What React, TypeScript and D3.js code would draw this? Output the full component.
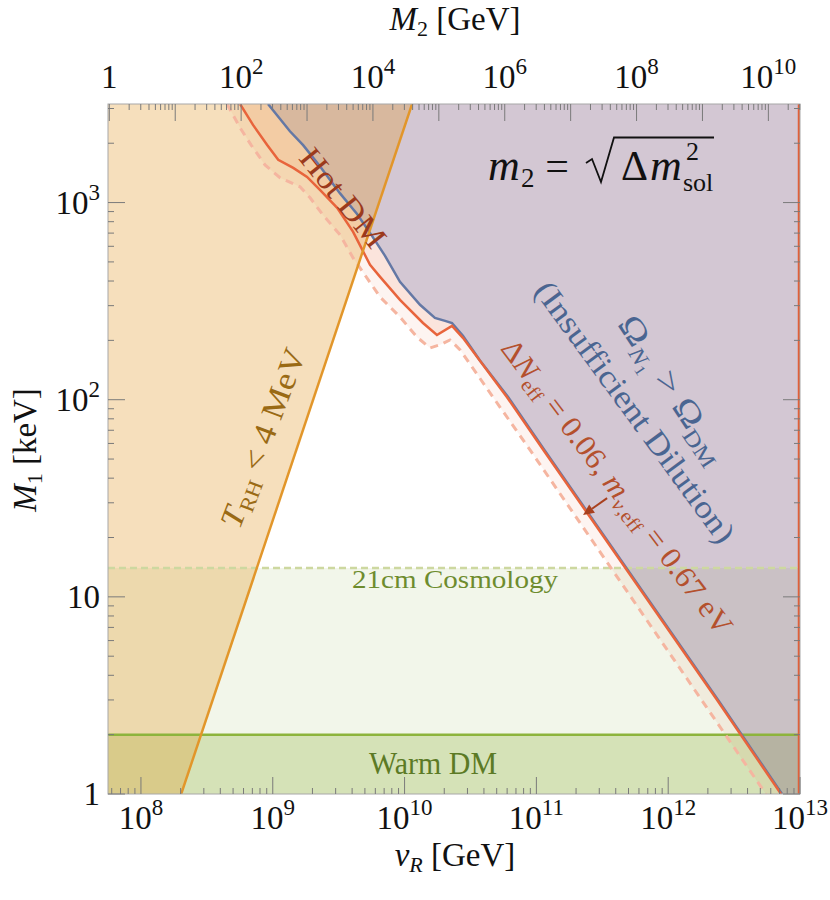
import React, { useEffect, useRef } from "react";
import * as d3 from "d3";

type Pt = [number, number];

// axis ranges: v_R in GeV, M_1 in keV
const vRange: [number, number] = [10 ** 7.75, 1e13];
const mRange: [number, number] = [1, 10 ** 3.5];
// top axis: M_2 = (v_R / vRef)^2 in GeV
const vRef = 10 ** 7.76;

const bottomTicks = [1e8, 1e9, 1e10, 1e11, 1e12, 1e13];
const leftTicks = [1, 10, 100, 1000];
const topTicks = [1, 1e2, 1e4, 1e6, 1e8, 1e10];

const cosmo21 = 14; // keV
const warmDM = 2; // keV

// T_RH < 4 MeV boundary
const trhLine: Pt[] = [
  [2.02e8, 1],
  [1.14e10, 3162],
];

// Omega_N1 = Omega_DM
const omegaLine: Pt[] = [
  [9.2e8, 3162], [1.35e9, 2300], [1.7e9, 1955], [2.28e9, 1530], [3.24e9, 1113],
  [4.36e9, 875], [5.66e9, 678], [7.11e9, 537], [9.23e9, 396], [1.31e10, 303],
  [1.7e10, 260], [2.03e10, 251], [2.29e10, 245], [2.77e10, 211], [3.73e10, 158],
  [6.1e10, 103.3], [1.15e11, 55.6], [2.39e12, 3.0], [7.3e12, 1],
];

// Hot DM: Delta N_eff = 0.06
const hotLine: Pt[] = [
  [5.65e8, 3162], [7.08e8, 2478], [9.04e8, 1963], [1.1e9, 1648], [1.43e9, 1500],
  [1.82e9, 1350], [2.28e9, 1160], [3.08e9, 940], [4.07e9, 710], [5.47e9, 483],
  [6.52e9, 420], [9.23e9, 321], [1.38e10, 245], [1.76e10, 213], [2.29e10, 237],
  [2.77e10, 206], [5.99e10, 103], [1.13e11, 55.6], [2.35e12, 3.0], [7.18e12, 1],
];

// dashed projection
const hotDashed: Pt[] = [
  [4.5e8, 3162], [5.65e8, 2393], [6.84e8, 1963], [8.73e8, 1553], [1.14e9, 1334],
  [1.61e9, 1202], [1.92e9, 1057], [2.4e9, 866], [3.24e9, 686], [4.07e9, 524],
  [6.52e9, 332], [9.23e9, 263], [1.24e10, 208], [1.56e10, 183], [1.86e10, 190],
  [2.21e10, 201], [2.64e10, 179], [4.69e10, 103], [8.95e10, 55.6], [1.75e12, 3.07],
  [5.51e12, 1],
];

const arrowFrom: Pt = [3.44e11, 31.7];
const arrowTo: Pt = [2.26e11, 26.0];

const FONT = "Liberation Serif, DejaVu Serif, serif";

const logTicks = (lo: number, hi: number) => {
  const out: { v: number; major: boolean }[] = [];
  for (let e = Math.floor(Math.log10(lo)); e <= Math.ceil(Math.log10(hi)); e++) {
    for (let k = 1; k < 10; k++) {
      const v = k * 10 ** e;
      if (v >= lo * 0.999 && v <= hi * 1.001) out.push({ v, major: k === 1 });
    }
  }
  return out;
};

const App = () => {
  const ref = useRef<SVGSVGElement>(null);

  useEffect(() => {
    document.body.style.margin = "0";
    const svg = d3.select(ref.current);
    svg.selectAll("*").remove();

    const L = 108, R = 800, T = 104, B = 794;
    const x = d3.scaleLog().domain(vRange).range([L, R]);
    const y = d3.scaleLog().domain(mRange).range([B, T]);
    const xTop = d3
      .scaleLog()
      .domain(vRange.map(v => (v / vRef) ** 2))
      .range([L, R]);

    const line = d3
      .line<Pt>()
      .x(d => x(d[0]))
      .y(d => y(d[1]));
    const [v0, v1] = vRange;
    const [m0, m1] = mRange;

    svg
      .append("defs")
      .append("clipPath")
      .attr("id", "plotclip")
      .append("rect")
      .attr("x", L)
      .attr("y", T)
      .attr("width", R - L)
      .attr("height", B - T);

    const g = svg.append("g").attr("clip-path", "url(#plotclip)");

    // green bands
    g.append("rect")
      .attr("x", L).attr("width", R - L)
      .attr("y", y(cosmo21)).attr("height", B - y(cosmo21))
      .attr("fill", "rgb(150,180,80)").attr("fill-opacity", 0.12);
    g.append("rect")
      .attr("x", L).attr("width", R - L)
      .attr("y", y(warmDM)).attr("height", B - y(warmDM))
      .attr("fill", "rgb(140,180,60)").attr("fill-opacity", 0.29);

    // overclosure region
    g.append("path")
      .attr("d", line([...omegaLine, [v1, m0], [v1, m1]]) + "Z")
      .attr("fill", "rgb(118,82,118)").attr("fill-opacity", 0.32);

    // hot DM region
    g.append("path")
      .attr("d", line([...hotLine, ...omegaLine.slice().reverse()]) + "Z")
      .attr("fill", "rgb(232,101,58)").attr("fill-opacity", 0.175);
    g.append("path")
      .attr("d", line([...hotDashed, ...hotLine.slice().reverse()]) + "Z")
      .attr("fill", "rgb(232,101,58)").attr("fill-opacity", 0.07);

    // reheating region
    g.append("path")
      .attr("d", line([...trhLine, [v0, m1], [v0, m0]]) + "Z")
      .attr("fill", "rgb(226,154,42)").attr("fill-opacity", 0.315);

    // boundary lines
    g.append("line")
      .attr("x1", L).attr("x2", R).attr("y1", y(cosmo21)).attr("y2", y(cosmo21))
      .attr("stroke", "#cdd8a0").attr("stroke-width", 2.5).attr("stroke-dasharray", "7,4");
    g.append("line")
      .attr("x1", L).attr("x2", R).attr("y1", y(warmDM)).attr("y2", y(warmDM))
      .attr("stroke", "#8db43c").attr("stroke-width", 2.5);
    g.append("path").attr("d", line(hotDashed)).attr("fill", "none")
      .attr("stroke", "#f5b5a0").attr("stroke-width", 3).attr("stroke-dasharray", "8,6");
    g.append("path").attr("d", line(omegaLine)).attr("fill", "none")
      .attr("stroke", "#6478a5").attr("stroke-width", 2.5);
    g.append("path").attr("d", line(hotLine)).attr("fill", "none")
      .attr("stroke", "#e8643c").attr("stroke-width", 2.5);
    g.append("path").attr("d", line(trhLine)).attr("fill", "none")
      .attr("stroke", "#e2962a").attr("stroke-width", 2.5);
    g.append("line")
      .attr("x1", x(v1) - 1).attr("x2", x(v1) - 1).attr("y1", y(m0)).attr("y2", y(m1))
      .attr("stroke", "#e0603a").attr("stroke-width", 2.5);

    // frame + ticks
    svg.append("rect")
      .attr("x", L).attr("y", T).attr("width", R - L).attr("height", B - T)
      .attr("fill", "none").attr("stroke", "#a8a8a8").attr("stroke-width", 1);
    const tk = svg.append("g").attr("stroke", "#7a7a7a").attr("stroke-width", 1);
    const maj = 17, mnr = 6;
    logTicks(v0, v1).forEach(t => {
      const px = x(t.v);
      tk.append("line").attr("x1", px).attr("x2", px).attr("y1", B).attr("y2", B - (t.major ? maj : mnr));
    });
    logTicks(xTop.domain()[0], xTop.domain()[1]).forEach(t => {
      const px = xTop(t.v);
      tk.append("line").attr("x1", px).attr("x2", px).attr("y1", T).attr("y2", T + (t.major ? maj : mnr));
    });
    logTicks(m0, m1).forEach(t => {
      const py = y(t.v);
      tk.append("line").attr("x1", L).attr("x2", L + (t.major ? maj : mnr)).attr("y1", py).attr("y2", py);
      tk.append("line").attr("x1", R).attr("x2", R - (t.major ? maj : mnr)).attr("y1", py).attr("y2", py);
    });

    // tick labels
    const pow10 = (sel: any, v: number) => {
      const e = Math.round(Math.log10(v));
      if (e === 0) sel.text("1");
      else if (e === 1) sel.text("10");
      else {
        sel.append("tspan").text("10");
        sel.append("tspan").attr("dy", -14).attr("font-size", 23).text(e);
      }
    };
    const labels = svg.append("g").style("font-family", FONT).attr("font-size", 33).attr("fill", "#111");
    bottomTicks.forEach(v => {
      pow10(labels.append("text").attr("x", x(v)).attr("y", 829).attr("text-anchor", "middle"), v);
    });
    topTicks.forEach(v => {
      pow10(labels.append("text").attr("x", xTop(v)).attr("y", 88).attr("text-anchor", "middle"), v);
    });
    leftTicks.forEach(v => {
      pow10(labels.append("text").attr("x", 100).attr("y", y(v) + 11).attr("text-anchor", "end"), v);
    });

    // axis titles
    const xt = labels.append("text").attr("x", 455).attr("y", 866).attr("text-anchor", "middle");
    xt.append("tspan").attr("font-style", "italic").text("v");
    xt.append("tspan").attr("font-style", "italic").attr("font-size", 22).attr("dy", 6).text("R");
    xt.append("tspan").attr("dy", -6).text(" [GeV]");
    const tt = labels.append("text").attr("x", 455).attr("y", 30).attr("text-anchor", "middle");
    tt.append("tspan").attr("font-style", "italic").text("M");
    tt.append("tspan").attr("font-size", 22).attr("dy", 6).text("2");
    tt.append("tspan").attr("dy", -6).text(" [GeV]");
    const lt = labels.append("text").attr("transform", "translate(36,450) rotate(-90)").attr("text-anchor", "middle");
    lt.append("tspan").attr("font-style", "italic").text("M");
    lt.append("tspan").attr("font-size", 22).attr("dy", 6).text("1");
    lt.append("tspan").attr("dy", -6).text(" [keV]");

    // annotations
    const ann = svg.append("g").style("font-family", FONT);
    const rotText = (cx: number, cy: number, ang: number, size: number, color: string, len?: number) => {
      const t = ann.append("text")
        .attr("transform", `translate(${cx},${cy}) rotate(${ang})`)
        .attr("y", size * 0.33)
        .attr("text-anchor", "middle")
        .attr("font-size", size)
        .attr("fill", color);
      if (len) t.attr("textLength", len).attr("lengthAdjust", "spacingAndGlyphs");
      return t;
    };

    rotText(343, 198, 51.3, 32, "#9c3a1c", 118).text("Hot DM");

    const trh = rotText(263, 438, -69.3, 32, "#9a6a14", 189);
    trh.append("tspan").attr("font-style", "italic").text("T");
    trh.append("tspan").attr("font-size", 21).attr("dy", 6).text("RH");
    trh.append("tspan").attr("dy", -6).text(" < 4 MeV");

    const om = rotText(673, 389, 56.6, 34, "#4a6591", 170);
    om.append("tspan").text("Ω");
    om.append("tspan").attr("font-style", "italic").attr("font-size", 22).attr("dy", 7).text("N");
    om.append("tspan").attr("font-size", 15).attr("dy", 4).text("1");
    om.append("tspan").attr("dy", -11).text(" > Ω");
    om.append("tspan").attr("font-size", 22).attr("dy", 7).text("DM");

    rotText(635, 412, 53.8, 32, "#4a6591", 316).text("(Insufficient Dilution)");

    const dn = rotText(617, 487, 52.8, 30, "#b4502d", 362);
    dn.append("tspan").text("Δ");
    dn.append("tspan").attr("font-style", "italic").text("N");
    dn.append("tspan").attr("font-size", 20).attr("dy", 6).text("eff");
    dn.append("tspan").attr("dy", -6).text(" = 0.06, ");
    dn.append("tspan").attr("font-style", "italic").text("m");
    dn.append("tspan").attr("font-style", "italic").attr("font-size", 20).attr("dy", 6).text("ν");
    dn.append("tspan").attr("font-size", 20).text(",eff");
    dn.append("tspan").attr("dy", -6).text(" = 0.67 eV");

    ann.append("text").attr("x", 455).attr("y", 588).attr("text-anchor", "middle")
      .attr("font-size", 26).attr("fill", "#6e8c2e")
      .attr("textLength", 206).attr("lengthAdjust", "spacingAndGlyphs").text("21cm Cosmology");
    ann.append("text").attr("x", 433).attr("y", 774).attr("text-anchor", "middle")
      .attr("font-size", 31).attr("fill", "#5c7a25")
      .attr("textLength", 128).attr("lengthAdjust", "spacingAndGlyphs").text("Warm DM");

    // arrow
    const ax0 = x(arrowFrom[0]), ay0 = y(arrowFrom[1]);
    const ax1 = x(arrowTo[0]), ay1 = y(arrowTo[1]);
    const ang = Math.atan2(ay1 - ay0, ax1 - ax0);
    const hl = 11, hw = 5;
    const bx = ax1 - hl * Math.cos(ang), by = ay1 - hl * Math.sin(ang);
    ann.append("line").attr("x1", ax0).attr("y1", ay0).attr("x2", bx).attr("y2", by)
      .attr("stroke", "#a8401e").attr("stroke-width", 2);
    ann.append("path")
      .attr("d", `M${ax1},${ay1}L${bx - hw * Math.sin(ang)},${by + hw * Math.cos(ang)}L${bx + hw * Math.sin(ang)},${by - hw * Math.cos(ang)}Z`)
      .attr("fill", "#a8401e");

    // m2 = sqrt(dm^2_sol)
    const eq = svg.append("g").style("font-family", FONT).attr("fill", "#111");
    eq.append("text").attr("x", 488).attr("y", 180).attr("font-size", 44).attr("font-style", "italic").text("m");
    eq.append("text").attr("x", 521).attr("y", 187).attr("font-size", 27).text("2");
    eq.append("text").attr("x", 557).attr("y", 180).attr("font-size", 42).attr("text-anchor", "middle").text("=");
    eq.append("path")
      .attr("d", "M586,163 L592,159 L601,182 L614,137.5 L714,137.5")
      .attr("fill", "none").attr("stroke", "#111").attr("stroke-width", 1.8).attr("stroke-linejoin", "miter");
    eq.append("text").attr("x", 621).attr("y", 180).attr("font-size", 42).text("Δ");
    eq.append("text").attr("x", 650).attr("y", 180).attr("font-size", 44).attr("font-style", "italic").text("m");
    eq.append("text").attr("x", 686).attr("y", 160).attr("font-size", 26).text("2");
    eq.append("text").attr("x", 683).attr("y", 191).attr("font-size", 26).text("sol");
  }, []);

  return <svg ref={ref} width={830} height={900} style={{ display: "block" }} />;
};

export default App;
